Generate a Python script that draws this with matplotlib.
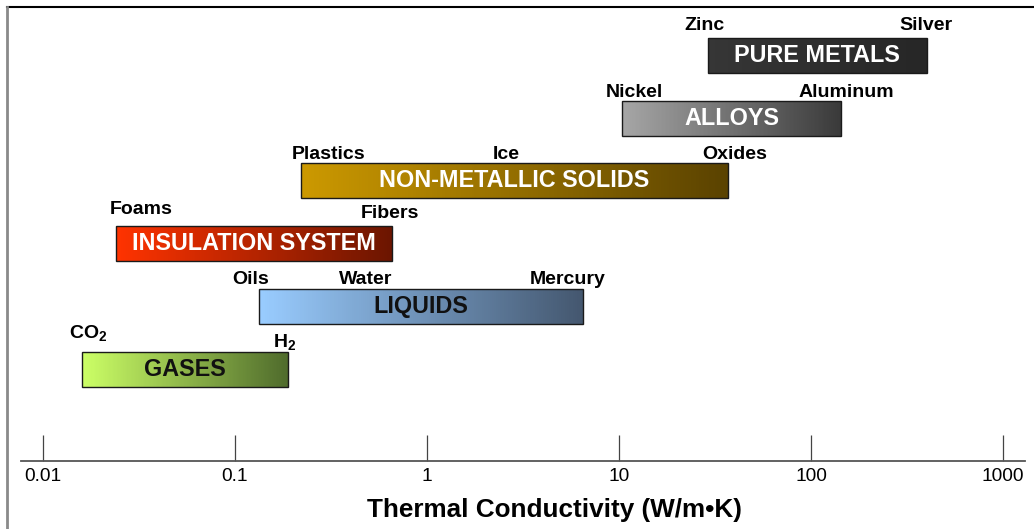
# Thermal conductivity ranges of material classes, log axis with gradient bars.
import numpy as np
import matplotlib as mpl; mpl.use('Agg')
import matplotlib.pyplot as plt
from matplotlib.colors import to_rgb
from matplotlib.lines import Line2D

mpl.rcParams.update({
    'font.family':['Liberation Sans','DejaVu Sans'],'font.weight':'bold',
    'mathtext.fontset':'custom','mathtext.rm':'Liberation Sans:bold',
    'mathtext.bf':'Liberation Sans:bold','mathtext.it':'Liberation Sans:bold',
})

# ranges (W/m.K), bottom row first
groups=['GASES','LIQUIDS','INSULATION SYSTEM','NON-METALLIC SOLIDS','ALLOYS','PURE METALS']
k_low =[0.016,0.134,0.024,0.22,10.4,29]
k_high=[0.19,6.5,0.66,37,143,400]
c_left =['#ccff66','#99ccff','#ff3300','#cc9900','#a6a6a6','#363636']
c_right=['#4f6b2c','#44576f','#6b1500','#5a4200','#3a3a3a','#262626']
txt_col=['#111111','#111111','white','white','white','white']

# example materials at the ends / inside each range
mat_name=['CO$_2$','H$_2$','Oils','Water','Mercury','Foams','Fibers',
          'Plastics','Ice','Oxides','Nickel','Aluminum','Zinc','Silver']
mat_k  =[0.0173,0.181,0.12,0.477,5.4,0.0323,0.643,0.306,2.6,39.8,12.0,152,27.8,396]
mat_row=[0,0,1,1,1,2,2,3,3,3,4,4,5,5]
mat_dy =[9.5,3,3.5,3.5,3.5,8.5,6,3.5,3.5,3.5,3,3,6,6]   # points above bar top

ticks=[0.01,0.1,1,10,100,1000]
tick_lab=['0.01','0.1','1','10','100','1000']

W,H=1034,529
fig=plt.figure(figsize=(W/100,H/100),dpi=100)
ax=fig.add_axes([21/W,(H-461)/H,1004/W,454/H])
ax.set_xscale('log')
ax.set_xlim(10**-2.1143,10**3.1143)
ax.set_ylim(-1.467,5.774)
bh=0.558

for i,g in enumerate(groups):
    lo,hi=k_low[i],k_high[i]
    e=np.logspace(np.log10(lo),np.log10(hi),161)
    t=np.linspace(0,1,len(e)-1)[:,None]
    cols=(1-t)*np.array(to_rgb(c_left[i]))+t*np.array(to_rgb(c_right[i]))
    ax.barh(np.full(len(t),i),np.diff(e),left=e[:-1],height=bh,color=cols,
            lw=0,antialiased=False)
    ax.barh(i,hi-lo,left=lo,height=bh,fill=False,edgecolor='#1a1a1a',lw=1.0)
    ax.text(np.sqrt(lo*hi),i,g,ha='center',va='center',color=txt_col[i],
            fontsize=16.8,fontweight='bold')

for n,k,r,dy in zip(mat_name,mat_k,mat_row,mat_dy):
    ax.annotate(n,(k,r+bh/2),xytext=(0,dy),textcoords='offset points',
                ha='center',va='baseline',fontsize=14,fontweight='bold')

for s in ['top','right','left']: ax.spines[s].set_visible(False)
ax.spines['bottom'].set_color('#555555'); ax.spines['bottom'].set_linewidth(1.3)
ax.set_yticks([])
ax.set_xticks(ticks); ax.set_xticklabels(tick_lab)
ax.xaxis.set_minor_locator(mpl.ticker.NullLocator())
ax.tick_params(axis='x',direction='in',length=19,width=0.9,color='#444444',
               pad=5,labelsize=13.8)
for lab in ax.get_xticklabels(): lab.set_fontweight('normal')
ax.patch.set_alpha(0)

fig.text(554/W,1-510/H,'Thermal Conductivity (W/m\u2022K)',ha='center',va='center',
         fontsize=18.8,fontweight='bold')
fig.add_artist(Line2D([7/W,1],[1-7/H,1-7/H],color='black',lw=1.5))
fig.add_artist(Line2D([7/W,7/W],[0,1-7/H],color='#8a8a8a',lw=2))

fig.savefig('out.png',dpi=100)
